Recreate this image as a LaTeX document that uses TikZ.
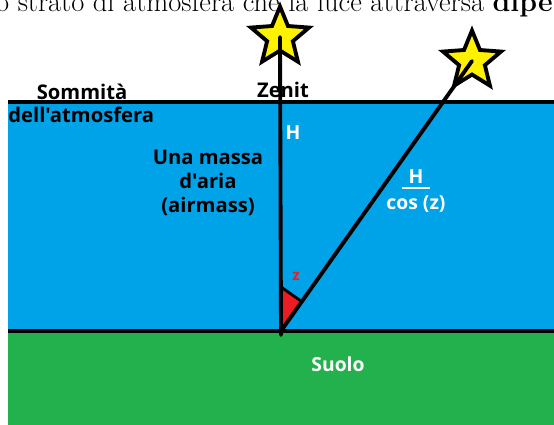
\documentclass[tikz,border=0pt]{standalone}
\usepackage{fontspec}
\usepackage{tikz}
\usepackage{xcolor}
\usetikzlibrary{arrows.meta, positioning, shapes.geometric, calc}

\newfontfamily\sketchfont{Open Sans}
\definecolor{skyblue}{RGB}{0,162,232}
\definecolor{grassgreen}{RGB}{34,177,76}
\definecolor{paintred}{RGB}{237,28,36}
\definecolor{paintyellow}{RGB}{255,242,0}

\begin{document}
\begin{tikzpicture}[
  starnode/.style={star, star points=5, star point ratio=2.25, draw=black, line width=2.2pt, fill=paintyellow, minimum size=1.22cm, inner sep=0pt},
  darklabel/.style={font=\sketchfont\bfseries\fontsize{11.5}{13.5}\selectfont, text=black, inner sep=1pt},
  whitelabel/.style={font=\sketchfont\bfseries\fontsize{11}{13}\selectfont, text=white, inner sep=1pt},
  rayline/.style={line width=2.2pt, black},
]
\useasboundingbox (0,0) rectangle (11.08,8.5);

% cielo e suolo
\fill[skyblue] (0.16,1.88) rectangle (11.08,6.46);
\fill[grassgreen] (0.16,0) rectangle (11.08,1.88);

% testo tagliato in alto
\node[anchor=base east, font=\fontsize{16.2}{19}\selectfont, inner sep=0pt] (caption) at (11.06,8.27) {lo strato di atmosfera che la luce attraversa \textbf{dipe}};

% stelle
\node[starnode] (zenitstar) at (5.60,7.76) {};
\node[starnode] (slantstar) at (9.44,7.28) {};

% vertice e angolo z
\coordinate (O) at (5.62,1.88);
\coordinate (zA) at ($(O)+(0,0.88)$);
\coordinate (zB) at ($(O)!0.72cm!(slantstar.center)$);
\filldraw[fill=paintred, draw=black, line width=1.6pt, line join=round] (O) -- (zA) -- (zB) -- cycle;

% etichette
\node[darklabel] (zenit) at (5.66,6.70) {Zenit};
\node[darklabel] (top1) at (1.64,6.66) {Sommità};
\node[darklabel, anchor=west, inner sep=0pt] (top2) at (0.16,6.20) {dell'atmosfera};
\node[darklabel, align=center] (airmass) at (4.16,4.84) {Una massa\\d'aria\\(airmass)};
\node[whitelabel] (Hvert) at (5.86,5.84) {H};
\node[whitelabel, minimum width=0.56cm] (Hnum) at (8.32,4.96) {H};
\node[whitelabel, below=0.16cm of Hnum] (Hden) {cos (z)};
\draw[white, line width=1pt] ([yshift=-0.04cm]Hnum.south west) -- ([yshift=-0.04cm]Hnum.south east);
\node[font=\sketchfont\bfseries\fontsize{8.5}{9}\selectfont, text=paintred] (zlabel) at (5.92,2.98) {z};
\node[whitelabel] (suolo) at (6.76,1.22) {Suolo};

% linee
\draw[rayline] (0.16,6.46) -- (11.08,6.46);
\draw[rayline] (0.16,1.88) -- (11.08,1.88);
\draw[rayline, line cap=round] ($(O)+(0,-0.08)$) -- (zenitstar.center);
\draw[rayline, line cap=round] (O) -- (slantstar.center);

\end{tikzpicture}
\end{document}
